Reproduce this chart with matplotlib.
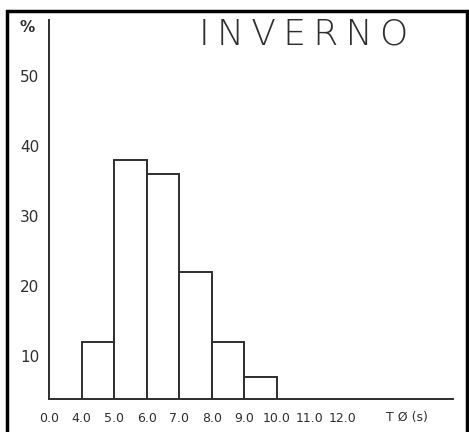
import matplotlib
matplotlib.use("Agg")
import matplotlib.pyplot as plt
from matplotlib.patches import Rectangle

# class edges on a broken (categorical) axis: 0.0, 4.0, 5.0 ... 12.0
x_labels = ["0.0", "4.0", "5.0", "6.0", "7.0", "8.0", "9.0", "10.0", "11.0", "12.0"]
bar_start = [1, 2, 3, 4, 5, 6]          # index of left edge in x_labels
bar_pct = [12, 38, 36, 22, 12, 7]
y_ticks = [10, 20, 30, 40, 50]
title = "INVERNO"
x_unit = "T Ø (s)"

ink = "#2e2e2e"
fig = plt.figure(figsize=(4.69, 4.32), dpi=100)
ax = fig.add_axes([49 / 469, 33 / 432, 404 / 469, 379 / 432])

ax.bar(bar_start, bar_pct, width=1.0, align="edge", bottom=0,
       facecolor="white", edgecolor=ink, linewidth=1.4, zorder=2)

ax.set_xlim(0, 12.4)
ax.set_ylim(3.86, 58)
for s in ("top", "right"):
    ax.spines[s].set_visible(False)
for s in ("left", "bottom"):
    ax.spines[s].set_color(ink)
    ax.spines[s].set_linewidth(1.4)

ax.set_xticks(list(range(len(x_labels))) + [11])
ax.set_xticklabels(x_labels + [x_unit])
ax.set_yticks(y_ticks)
ax.tick_params(axis="both", length=0, colors=ink)
ax.tick_params(axis="x", pad=9, labelsize=9)
ax.tick_params(axis="y", pad=7, labelsize=11)

ax.text(-0.055, 57, "%", transform=ax.get_yaxis_transform(), ha="center",
        va="center", fontsize=11, color=ink, fontweight="bold")
# hand-lettered title is widely spaced
ax.text(0.63, 0.963, "\u2009".join(title), transform=ax.transAxes, ha="center",
        va="center", fontsize=26, color=ink, family="DejaVu Sans",
        fontweight="light")

# outer frame of the scanned page
fig.patches.append(Rectangle((7 / 469, -0.05), 460 / 469, 1.05 - 11 / 432,
                             transform=fig.transFigure, fill=False,
                             edgecolor="black", linewidth=2.5))

fig.savefig("out.png", dpi=100)
